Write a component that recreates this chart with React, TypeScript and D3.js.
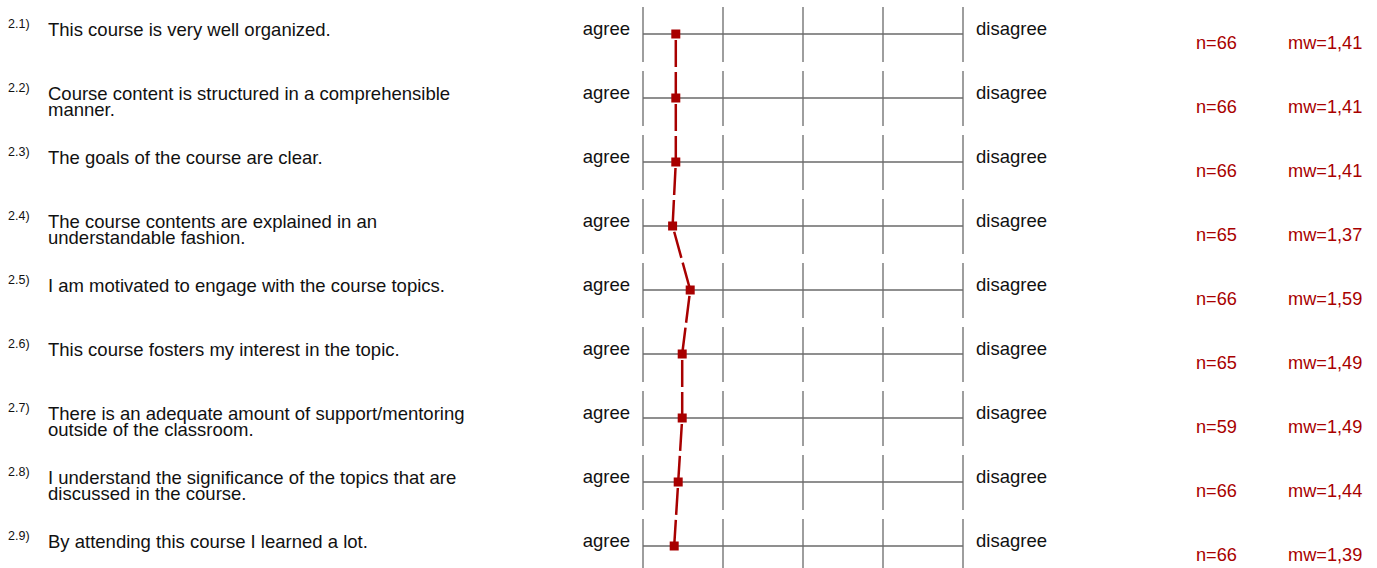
import { useEffect } from "react";
import * as d3 from "d3";

// item numbers, question text (already wrapped as in the report), counts and means
const itemIds = ["2.1)", "2.2)", "2.3)", "2.4)", "2.5)", "2.6)", "2.7)", "2.8)", "2.9)"];
const questions: string[][] = [
  ["This course is very well organized."],
  ["Course content is structured in a comprehensible", "manner."],
  ["The goals of the course are clear."],
  ["The course contents are explained in an", "understandable fashion."],
  ["I am motivated to engage with the course topics."],
  ["This course fosters my interest in the topic."],
  ["There is an adequate amount of support/mentoring", "outside of the classroom."],
  ["I understand the significance of the topics that are", "discussed in the course."],
  ["By attending this course I learned a lot."],
];
const nValues = [66, 66, 66, 65, 66, 65, 59, 66, 66];
const means = [1.41, 1.41, 1.41, 1.37, 1.59, 1.49, 1.49, 1.44, 1.39];
const scaleSteps = [1, 2, 3, 4, 5];
const leftPole = "agree";
const rightPole = "disagree";

const W = 1377;
const H = 568;
const RED = "#a80000";
const GRID = "#6a6a6a";
const FONT = "'Liberation Sans', Arial, Helvetica, sans-serif";

export default function App() {
  useEffect(() => {
    document.body.style.margin = "0";
  }, []);

  const x = d3.scaleLinear().domain([1, 5]).range([643, 963]);
  const y = d3.scaleLinear().domain([0, itemIds.length - 1]).range([34, 546]);

  // profile points, then consecutive pairs -> one dashed piece per pair
  const points = means.map((m, i) => [x(m), y(i)] as [number, number]);
  const segments = d3.pairs(points);
  const seg = d3.line();

  return (
    <svg width={W} height={H} style={{ display: "block", background: "#fff" }} fontFamily={FONT}>
      {itemIds.map((id, i) => {
        const cy = y(i);
        return (
          <g key={id}>
            <text x={8} y={cy - 6} fontSize={12.5} fill="#111">{id}</text>
            {questions[i].map((line, k) => (
              <text key={k} x={48} y={cy + 1.5 + k * 16} fontSize={18.5} fill="#111">{line}</text>
            ))}
            <text x={630} y={cy + 1} fontSize={18.5} fill="#111" textAnchor="end">{leftPole}</text>
            <text x={976} y={cy + 1} fontSize={18.5} fill="#111">{rightPole}</text>
            {scaleSteps.map((s) => (
              <line key={s} x1={x(s)} x2={x(s)} y1={cy - 27} y2={cy + 28} stroke={GRID} strokeWidth={1.3} />
            ))}
            <line x1={x(1)} x2={x(5)} y1={cy} y2={cy} stroke={GRID} strokeWidth={1.3} />
            <text x={1196} y={cy + 14.7} fontSize={18.2} fill={RED}>{`n=${nValues[i]}`}</text>
            <text x={1288} y={cy + 14.7} fontSize={18.2} fill={RED}>{`mw=${means[i].toFixed(2).replace(".", ",")}`}</text>
          </g>
        );
      })}

      {segments.map((pair, k) => (
        <path
          key={k}
          d={seg(pair) ?? ""}
          fill="none"
          stroke={RED}
          strokeWidth={2.5}
          strokeDasharray="0 6 27 5 200"
        />
      ))}

      {points.map(([px, py], i) => (
        <rect key={i} x={px - 4.5} y={py - 4.5} width={9} height={9} fill={RED} />
      ))}
    </svg>
  );
}
